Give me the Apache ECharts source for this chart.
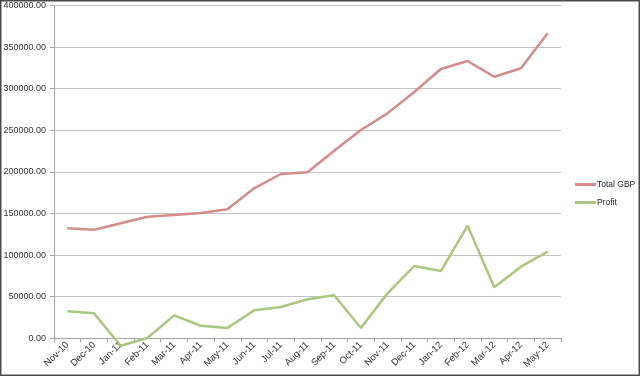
<!DOCTYPE html>
<html>
<head>
<meta charset="utf-8">
<script src="https://cdn.jsdelivr.net/npm/echarts@6/dist/echarts.min.js"></script>
<style>
html,body{margin:0;padding:0;background:#fff;}
#c{width:640px;height:376px;}
</style>
</head>
<body>
<div id="c"></div>
<script>
var categories = ["Nov-10","Dec-10","Jan-11","Feb-11","Mar-11","Apr-11","May-11","Jun-11","Jul-11","Aug-11","Sep-11","Oct-11","Nov-11","Dec-11","Jan-12","Feb-12","Mar-12","Apr-12","May-12"];
var totalGBP = [132200,130500,138300,146200,148200,150700,155000,180300,197500,199500,225500,250400,270400,296000,323700,333300,314400,324500,366600];
var profit = [32400,30000,-8900,400,27600,15100,12400,33600,37600,46900,51700,12400,54000,86900,80900,135300,61300,86100,104100];
var seriesNames = ["Total GBP","Profit"];

var chart = echarts.init(document.getElementById('c'), null, {renderer:'canvas'});
var font = 'Liberation Sans, Arial, sans-serif';
chart.setOption({
  animation:false,
  graphic:[{type:'rect',shape:{x:0.75,y:0.75,width:638.5,height:374.5},style:{fill:'none',stroke:'#4a4a4a',lineWidth:1.5},z:-1,silent:true}],
  grid:{left:54,right:79,top:5.5,bottom:37.7,containLabel:false},
  legend:{
    orient:'vertical',left:575,top:180,padding:0,itemWidth:21,itemHeight:3,itemGap:9,icon:'rect',
    textStyle:{fontFamily:font,fontSize:8.5,color:'#222',padding:[0,0,0,-4]},
    data:seriesNames
  },
  xAxis:{
    type:'category',data:categories,boundaryGap:true,
    axisLine:{lineStyle:{color:'#a6a6a6',width:1}},
    axisTick:{show:true,length:4,lineStyle:{color:'#a6a6a6'}},
    axisLabel:{rotate:45,fontFamily:font,fontSize:9.5,color:'#333',margin:5,interval:0}
  },
  yAxis:{
    type:'value',min:0,max:400000,interval:50000,
    axisLine:{show:true,lineStyle:{color:'#a6a6a6',width:1}},
    axisTick:{show:true,length:4,lineStyle:{color:'#a6a6a6'}},
    splitLine:{lineStyle:{color:'#c4c4c4',width:1}},
    axisLabel:{fontFamily:font,fontSize:9,color:'#333',margin:8,formatter:function(v){return v.toFixed(2);}}
  },
  series:[
    {name:seriesNames[0],type:'line',data:totalGBP,symbol:'none',clip:false,lineStyle:{color:'#d38c89',width:2.5},itemStyle:{color:'#d38c89'}},
    {name:seriesNames[1],type:'line',data:profit,symbol:'none',clip:false,lineStyle:{color:'#a9c77f',width:2.5},itemStyle:{color:'#a9c77f'}}
  ]
});
</script>
</body>
</html>
